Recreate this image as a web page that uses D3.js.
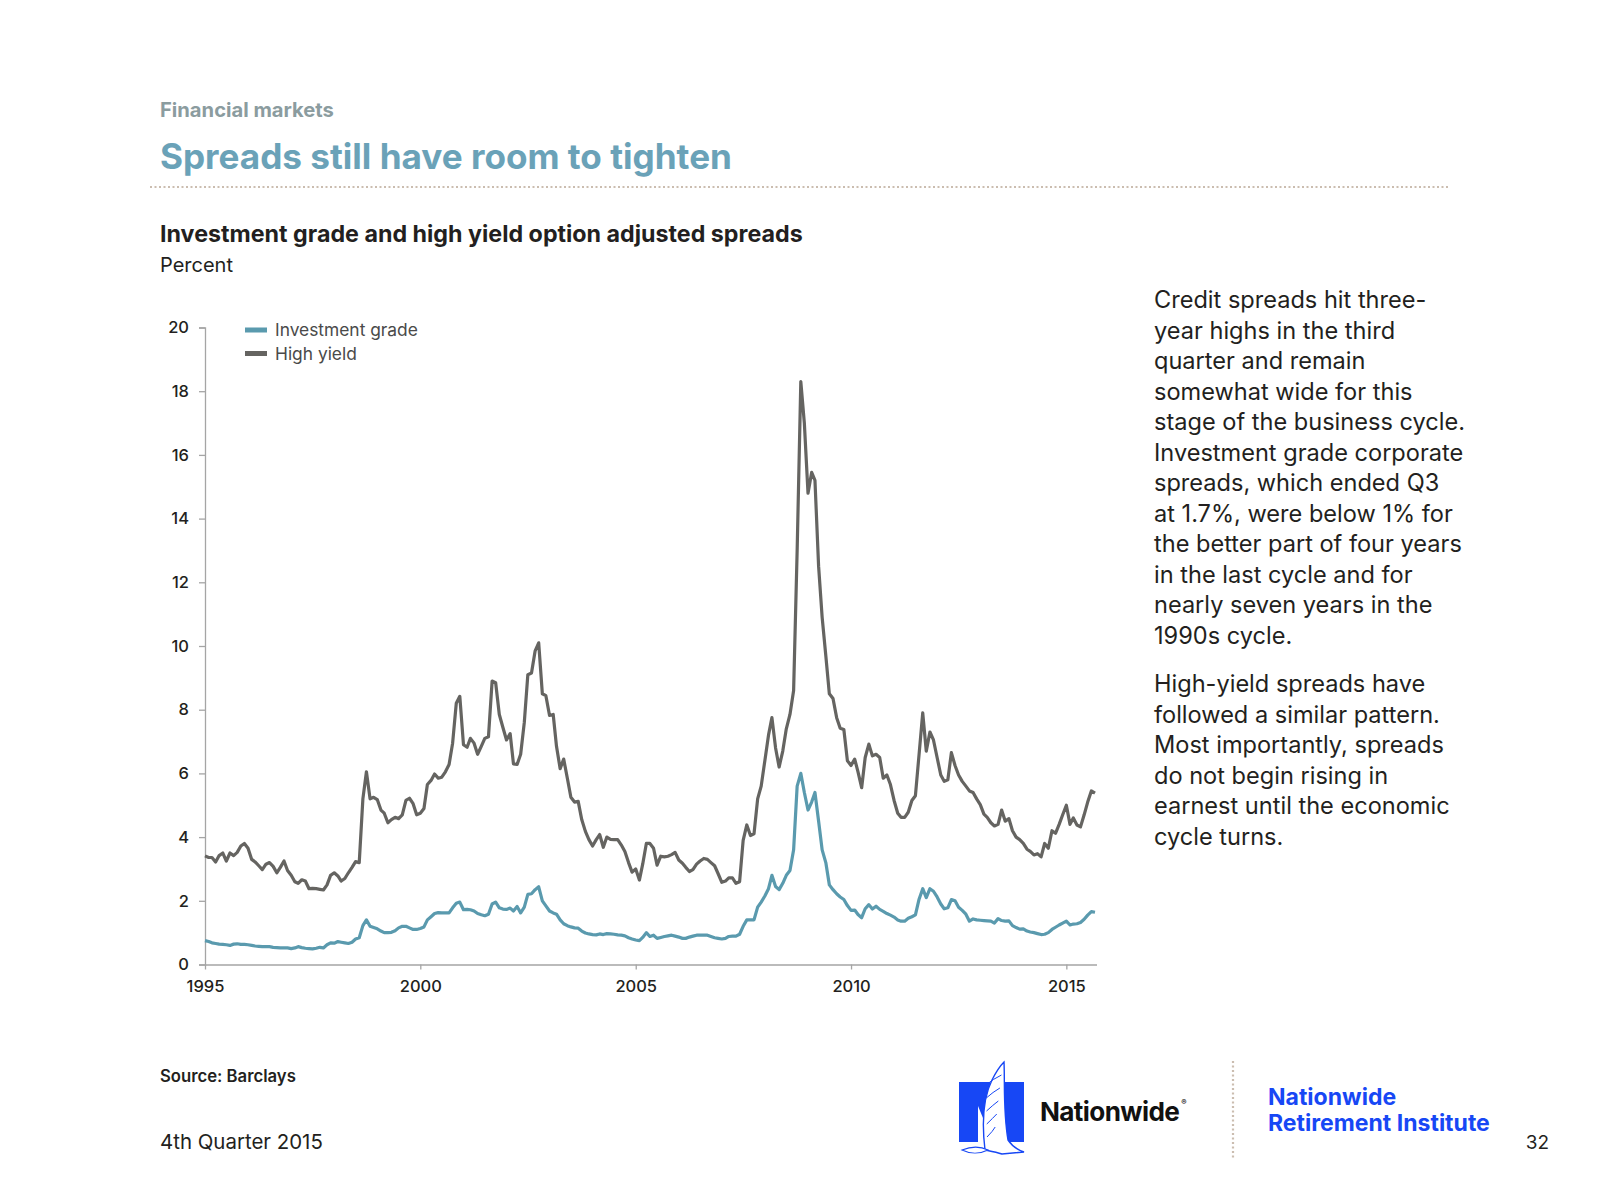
<html>
<head>
  <script src="https://d3js.org/d3.v7.min.js"></script>
  <style>
    body { margin: 0; padding: 0; background: white; overflow: hidden; }
    svg { display: block; }
    text { font-family: Inter, "Open Sans", sans-serif; }
  </style>
</head>
<body>
  <svg width="1600" height="1200"></svg>

  <script>
    // Monthly option adjusted spreads, Jan 1995 - Sep 2015 (percent)
    const startMonth = new Date(1995, 0, 1);

    const highYield = [
      3.41, 3.36, 3.36, 3.22, 3.42, 3.50, 3.25, 3.50, 3.42, 3.52, 3.72, 3.80,
      3.65, 3.30, 3.22, 3.10, 2.98, 3.15, 3.20, 3.08, 2.88, 3.05, 3.25, 2.95,
      2.80, 2.60, 2.55, 2.66, 2.62, 2.38, 2.39, 2.38, 2.36, 2.34, 2.50, 2.80,
      2.88, 2.78, 2.62, 2.70, 2.88, 3.05, 3.23, 3.20, 5.20, 6.05, 5.20, 5.25,
      5.18, 4.85, 4.75, 4.45, 4.55, 4.62, 4.58, 4.70, 5.15, 5.22, 5.05, 4.70,
      4.75, 4.90, 5.65, 5.78, 5.98, 5.85, 5.88, 6.05, 6.28, 6.95, 8.20, 8.42,
      6.90, 6.82, 7.10, 6.95, 6.60, 6.85, 7.10, 7.15, 8.90, 8.85, 7.85, 7.45,
      7.05, 7.25, 6.30, 6.28, 6.60, 7.60, 9.10, 9.15, 9.85, 10.10, 8.50, 8.44,
      7.82, 7.85, 6.85, 6.15, 6.45, 5.85, 5.25, 5.10, 5.12, 4.55, 4.18, 3.92,
      3.72, 3.92, 4.08, 3.68, 4.00, 3.93, 3.92, 3.92, 3.75, 3.55, 3.20, 2.90,
      3.00, 2.65, 3.15, 3.80, 3.80, 3.65, 3.12, 3.40, 3.38, 3.40, 3.45, 3.52,
      3.28, 3.18, 3.05, 2.92, 2.98, 3.15, 3.25, 3.33, 3.30, 3.20, 3.10, 2.85,
      2.58, 2.62, 2.72, 2.72, 2.55, 2.60, 3.90, 4.38, 4.05, 4.10, 5.20, 5.60,
      6.40, 7.20, 7.75, 6.80, 6.20, 6.70, 7.40, 7.85, 8.60, 13.00, 18.30, 17.00,
      14.80, 15.45, 15.20, 12.50, 10.90, 9.70, 8.50, 8.35, 7.75, 7.42, 7.38, 6.40,
      6.25, 6.45, 6.05, 5.55, 6.50, 6.92, 6.55, 6.60, 6.50, 5.85, 5.95, 5.65,
      5.15, 4.75, 4.62, 4.62, 4.78, 5.15, 5.30, 6.60, 7.90, 6.70, 7.30, 7.05,
      6.50, 5.95, 5.75, 5.80, 6.65, 6.25, 5.95, 5.75, 5.60, 5.45, 5.40, 5.20,
      5.02, 4.72, 4.62, 4.45, 4.35, 4.40, 4.85, 4.50, 4.58, 4.20, 4.00, 3.92,
      3.80, 3.62, 3.55, 3.44, 3.48, 3.38, 3.80, 3.65, 4.20, 4.12, 4.40, 4.70,
      5.00, 4.40, 4.60, 4.38, 4.32, 4.70, 5.10, 5.45, 5.38
    ];

    const investmentGrade = [
      0.75, 0.72, 0.68, 0.66, 0.64, 0.63, 0.62, 0.60, 0.64, 0.65, 0.63, 0.63,
      0.62, 0.60, 0.58, 0.57, 0.56, 0.56, 0.56, 0.54, 0.53, 0.52, 0.52, 0.52,
      0.50, 0.52, 0.56, 0.53, 0.51, 0.50, 0.49, 0.51, 0.54, 0.52, 0.62, 0.68,
      0.67, 0.72, 0.70, 0.68, 0.66, 0.70, 0.80, 0.84, 1.22, 1.40, 1.20, 1.16,
      1.12, 1.05, 1.00, 1.00, 1.01, 1.06, 1.15, 1.20, 1.20, 1.15, 1.10, 1.10,
      1.13, 1.18, 1.40, 1.50, 1.60, 1.63, 1.62, 1.62, 1.62, 1.78, 1.92, 1.96,
      1.72, 1.73, 1.72, 1.68, 1.60, 1.56, 1.53, 1.58, 1.90, 1.96, 1.78, 1.74,
      1.73, 1.77, 1.68, 1.82, 1.62, 1.80, 2.20, 2.22, 2.35, 2.44, 2.00, 1.84,
      1.68, 1.62, 1.58, 1.40, 1.28, 1.22, 1.18, 1.15, 1.14, 1.05, 0.99, 0.96,
      0.94, 0.93, 0.96, 0.94, 0.97, 0.96, 0.95, 0.93, 0.92, 0.90, 0.84, 0.80,
      0.77, 0.75, 0.85, 1.00, 0.88, 0.92, 0.82, 0.85, 0.88, 0.90, 0.92, 0.89,
      0.86, 0.82, 0.82, 0.86, 0.89, 0.92, 0.92, 0.92, 0.92, 0.88, 0.84, 0.82,
      0.80, 0.82, 0.88, 0.89, 0.89, 0.95, 1.20, 1.40, 1.40, 1.40, 1.80, 1.96,
      2.15, 2.38, 2.80, 2.45, 2.35, 2.55, 2.80, 2.95, 3.60, 5.60, 6.00, 5.40,
      4.85, 5.10, 5.40, 4.50, 3.60, 3.20, 2.50, 2.35, 2.22, 2.12, 2.04, 1.85,
      1.70, 1.71, 1.57, 1.47, 1.75, 1.88, 1.74, 1.83, 1.73, 1.67, 1.60, 1.55,
      1.49, 1.40, 1.36, 1.36, 1.45, 1.50, 1.56, 2.05, 2.38, 2.10, 2.38, 2.30,
      2.12, 1.90, 1.75, 1.78, 2.04, 2.00, 1.80, 1.70, 1.58, 1.36, 1.43, 1.40,
      1.39, 1.38, 1.37, 1.36, 1.30, 1.44, 1.38, 1.36, 1.37, 1.22, 1.16, 1.11,
      1.12, 1.05, 1.02, 1.00, 0.97, 0.94, 0.95, 1.00, 1.10, 1.17, 1.24, 1.30,
      1.36, 1.24, 1.27, 1.28, 1.32, 1.42, 1.55, 1.66, 1.64
    ];

    const yearTicks = [1995, 2000, 2005, 2010, 2015];
    const yTicks = [0, 2, 4, 6, 8, 10, 12, 14, 16, 18, 20];
    const seriesNames = ["Investment grade", "High yield"];

    const noteLines1 = [
      "Credit spreads hit three-",
      "year highs in the third",
      "quarter and remain",
      "somewhat wide for this",
      "stage of the business cycle.",
      "Investment grade corporate",
      "spreads, which ended Q3",
      "at 1.7%, were below 1% for",
      "the better part of four years",
      "in the last cycle and for",
      "nearly seven years in the",
      "1990s cycle."
    ];
    const noteLines2 = [
      "High-yield spreads have",
      "followed a similar pattern.",
      "Most importantly, spreads",
      "do not begin rising in",
      "earnest until the economic",
      "cycle turns."
    ];

    const igColor = "#5a9aae",
          hyColor = "#656461",
          axisColor = "#a5a5a5",
          dotColor = "#cbbdb0";

    const svg = d3.select("svg");

    // scale font size so a text spans a given width
    function fit(sel, w) {
      const len = sel.node().getComputedTextLength();
      sel.attr("font-size", +sel.attr("font-size") * w / len);
      return sel;
    }

    // ---- header ----
    fit(svg.append("text")
      .attr("x", 160).attr("y", 117)
      .attr("font-size", 17).attr("font-weight", 700)
      .attr("fill", "#8b9c9f")
      .text("Financial markets"), 174);

    fit(svg.append("text")
      .attr("x", 160).attr("y", 169)
      .attr("font-size", 32).attr("font-weight", 700)
      .attr("fill", "#6aa2b8")
      .text("Spreads still have room to tighten"), 572);

    svg.append("line")
      .attr("x1", 150).attr("x2", 1449)
      .attr("y1", 187).attr("y2", 187)
      .attr("stroke", dotColor).attr("stroke-width", 2.2)
      .attr("stroke-dasharray", "2,2.5");

    fit(svg.append("text")
      .attr("x", 160).attr("y", 242)
      .attr("font-size", 21).attr("font-weight", 700)
      .attr("fill", "#231f20")
      .text("Investment grade and high yield option adjusted spreads"), 643);

    fit(svg.append("text")
      .attr("x", 160).attr("y", 272)
      .attr("font-size", 19)
      .attr("fill", "#231f20")
      .text("Percent"), 73);

    // ---- chart ----
    const dates = highYield.map((d, i) => d3.timeMonth.offset(startMonth, i));

    const x = d3.scaleTime()
      .domain([startMonth, dates[dates.length - 1]])
      .range([205, 1095]);

    const y = d3.scaleLinear()
      .domain([0, 20])
      .range([964.5, 327.5]);

    const xAxis = d3.axisBottom(x)
      .tickValues(yearTicks.map(yr => new Date(yr, 0, 1)))
      .tickFormat(d3.timeFormat("%Y"))
      .tickSize(5)
      .tickPadding(8);

    const yAxis = d3.axisLeft(y)
      .tickValues(yTicks)
      .tickSize(6)
      .tickPadding(10);

    const gx = svg.append("g")
      .attr("transform", "translate(0,964.5)")
      .call(xAxis);
    gx.select(".domain").attr("d", "M205,0.5H1097");

    const gy = svg.append("g")
      .attr("transform", "translate(205,0)")
      .call(yAxis);

    [gx, gy].forEach(g => {
      g.select(".domain").attr("stroke", axisColor).attr("stroke-width", 1.3);
      g.selectAll(".tick line").attr("stroke", axisColor).attr("stroke-width", 1.3);
      g.selectAll(".tick text")
        .attr("fill", "#231f20")
        .style("font-family", "Inter, sans-serif")
        .style("font-weight", 500)
        .style("font-size", "16.5px");
    });
    gx.selectAll(".tick text").attr("dy", "0.9em");

    const line = d3.line()
      .x((d, i) => x(dates[i]))
      .y(d => y(d));

    svg.append("path")
      .datum(investmentGrade)
      .attr("fill", "none")
      .attr("stroke", igColor)
      .attr("stroke-width", 3.2)
      .attr("stroke-linejoin", "round")
      .attr("d", line);

    svg.append("path")
      .datum(highYield)
      .attr("fill", "none")
      .attr("stroke", hyColor)
      .attr("stroke-width", 3.2)
      .attr("stroke-linejoin", "round")
      .attr("d", line);

    // legend
    const legend = svg.append("g");
    seriesNames.forEach((name, i) => {
      legend.append("rect")
        .attr("x", 245).attr("y", 327.5 + i * 23.5)
        .attr("width", 22).attr("height", 5)
        .attr("fill", i === 0 ? igColor : hyColor);
      legend.append("text")
        .attr("x", 275).attr("y", 336 + i * 23.5)
        .attr("font-size", 16)
        .attr("fill", "#4a4a4a")
        .text(name);
    });
    const legFs = 16 * 143 / legend.select("text").node().getComputedTextLength();
    legend.selectAll("text").attr("font-size", legFs);

    // ---- commentary ----
    const note = svg.append("g").attr("fill", "#231f20");
    noteLines1.forEach((t, i) => {
      note.append("text").attr("x", 1154).attr("y", 308 + i * 30.5).text(t);
    });
    noteLines2.forEach((t, i) => {
      note.append("text").attr("x", 1154).attr("y", 692 + i * 30.5).text(t);
    });
    note.selectAll("text").attr("font-size", 21);
    const longest = note.selectAll("text").nodes()[8];
    const noteFs = 21 * 308 / longest.getComputedTextLength();
    note.selectAll("text").attr("font-size", noteFs);

    // ---- footer ----
    fit(svg.append("text")
      .attr("x", 160).attr("y", 1082)
      .attr("font-size", 16).attr("font-weight", 600)
      .attr("fill", "#231f20")
      .text("Source: Barclays"), 136);

    fit(svg.append("text")
      .attr("x", 160).attr("y", 1149)
      .attr("font-size", 19)
      .attr("fill", "#231f20")
      .text("4th Quarter 2015"), 163);

    // logo mark
    const blue = "#1747f5";
    const logo = svg.append("g");
    logo.append("rect").attr("x", 959).attr("y", 1082).attr("width", 19).attr("height", 60).attr("fill", blue);
    logo.append("rect").attr("x", 1005).attr("y", 1082).attr("width", 19).attr("height", 60).attr("fill", blue);
    logo.append("path")
      .attr("d", "M978,1082 L990,1082 L1005,1118 L1005,1142 L993,1142 L978,1106 Z")
      .attr("fill", blue);
    logo.append("path")
      .attr("d", "M985,1150 C982,1125 983,1098 992,1080 C996,1072 1000,1066 1004,1062 C1005,1085 1003,1110 1008,1140 C1012,1146 1018,1150 1024,1152 L1002,1154 C996,1152 990,1151 985,1150 Z")
      .attr("fill", "white").attr("stroke", blue).attr("stroke-width", 1.4);
    [1075, 1088, 1101, 1114, 1127].forEach(yy => {
      logo.append("path")
        .attr("d", `M${1003 - (yy - 1062) * 0.12},${yy} Q${993},${yy + 4} ${986 + (yy - 1075) * 0.02},${yy + 10}`)
        .attr("fill", "none").attr("stroke", blue).attr("stroke-width", 1);
    });
    logo.append("path")
      .attr("d", "M962,1150 C972,1146 980,1146 988,1150 C980,1154 970,1154 962,1150 Z")
      .attr("fill", "white").attr("stroke", blue).attr("stroke-width", 1.2);

    const nw = svg.append("text")
      .attr("x", 1040).attr("y", 1121)
      .attr("font-size", 25).attr("font-weight", 700)
      .attr("letter-spacing", -0.6)
      .attr("fill", "#111")
      .text("Nationwide");
    fit(nw, 139);
    const nwEnd = 1040 + nw.node().getComputedTextLength();
    svg.append("text")
      .attr("x", nwEnd + 2).attr("y", 1105)
      .attr("font-size", 8).attr("font-weight", 700)
      .attr("fill", "#111")
      .text("®");

    svg.append("line")
      .attr("x1", 1233).attr("x2", 1233)
      .attr("y1", 1061).attr("y2", 1158)
      .attr("stroke", dotColor).attr("stroke-width", 2.2)
      .attr("stroke-dasharray", "2,2.5");

    const nri2 = svg.append("text")
      .attr("x", 1268).attr("y", 1131)
      .attr("font-size", 21).attr("font-weight", 700)
      .attr("fill", blue)
      .text("Retirement Institute");
    fit(nri2, 222);
    svg.append("text")
      .attr("x", 1268).attr("y", 1105)
      .attr("font-size", nri2.attr("font-size")).attr("font-weight", 700)
      .attr("fill", blue)
      .text("Nationwide");

    svg.append("text")
      .attr("x", 1549).attr("y", 1149)
      .attr("text-anchor", "end")
      .attr("font-size", 19)
      .attr("fill", "#231f20")
      .text("32");
  </script>
</body>
</html>
